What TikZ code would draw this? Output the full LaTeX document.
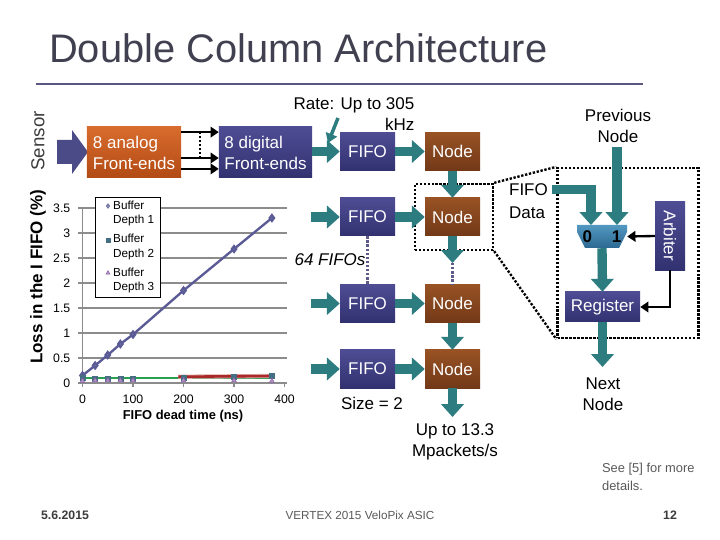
\documentclass[tikz,border=0pt]{standalone}
\usepackage{fontspec}
\setmainfont{Liberation Sans}
\usetikzlibrary{arrows.meta,positioning,calc,plotmarks}

\definecolor{bluetop}{RGB}{78,77,148}
\definecolor{bluebot}{RGB}{50,49,112}
\definecolor{browntop}{RGB}{152,82,36}
\definecolor{brownbot}{RGB}{114,57,24}
\definecolor{orangetop}{RGB}{216,108,46}
\definecolor{orangebot}{RGB}{178,74,20}
\definecolor{flowteal}{RGB}{45,125,128}
\definecolor{muxtop}{RGB}{82,152,192}
\definecolor{muxbot}{RGB}{44,104,146}
\definecolor{sensorblue}{RGB}{75,75,135}
\definecolor{skipgray}{RGB}{95,90,140}
\definecolor{titlegray}{RGB}{64,64,80}
\definecolor{rulecol}{RGB}{90,88,128}
\definecolor{textgray}{RGB}{60,60,60}
\definecolor{footgray}{RGB}{90,90,90}
\definecolor{plotblue}{RGB}{90,90,150}
\definecolor{gridgray}{RGB}{140,140,140}
\definecolor{depthtwo}{RGB}{70,110,130}
\definecolor{depththree}{RGB}{140,100,170}
\definecolor{trendred}{RGB}{170,40,40}
\definecolor{trendgreen}{RGB}{40,160,80}

\begin{document}
\begin{tikzpicture}[x=0.03cm, y=-0.03cm,
  every node/.style={font=\fontsize{14.5}{18}\selectfont},
  box/.style={text=white, inner sep=1pt, align=left},
  bluebox/.style={box, top color=bluetop, bottom color=bluebot},
  fifo/.style={bluebox, minimum width=1.65cm, minimum height=1.14cm},
  col/.style={box, top color=browntop, bottom color=brownbot, minimum width=1.65cm, minimum height=1.14cm},
  flow/.style={draw=flowteal, line width=8pt, -{Triangle[length=11pt,width=19pt]}},
  hint/.style={draw=flowteal, line width=3pt, -{Triangle[length=8pt,width=10pt]}},
  wire/.style={draw=black, line width=2pt, -{Triangle[length=7pt,width=9pt]}},
  dots/.style={draw=black, line width=2pt, dash pattern=on 2pt off 1.4pt},
  skip/.style={draw=skipgray, line width=2pt, dash pattern=on 2pt off 1.5pt},
  tick/.style={font=\fontsize{10.5}{12}\selectfont},
  legtext/.style={font=\fontsize{10}{12.75}\selectfont, align=left, anchor=west, inner sep=0pt},
  foot/.style={font=\fontsize{10}{12}\selectfont, text=footgray}]
\useasboundingbox (0,0) rectangle (720,540);
\fill[white] (0,0) rectangle (720,540);

% title
\node[anchor=base west, text=titlegray, font=\fontsize{34}{40}\selectfont] (title) at (45,63) {Double Column Architecture};
\draw[rulecol, line width=2.2pt] (36,84) -- (643,84);

% sensor and front-ends
\node[rotate=90, text=textgray, font=\fontsize{16}{19}\selectfont] (sensor) at (38,141) {Sensor};
\fill[sensorblue] (57,140) -- (72,140) -- (72,130) -- (88,152) -- (72,174) -- (72,164) -- (57,164) -- cycle;
\node[box, top color=orangetop, bottom color=orangebot, minimum width=2.82cm, minimum height=1.53cm] (analog) at (134,152.5) {8 analog\\Front-ends};
\node[bluebox, minimum width=2.79cm, minimum height=1.53cm] (digital) at (265.5,152.5) {8 digital\\Front-ends};
\coordinate (mid) at ($(analog.east)!0.5!(digital.west)$);
\foreach \dy in {17.4pt,-4.7pt,-14pt}
  \draw[wire] ([yshift=\dy]analog.east) -- ([yshift=\dy]digital.west);
\draw[dots, line width=1.6pt] ([yshift=17.4pt]mid) -- ([yshift=-4.7pt]mid);

% zoom frames
\node[dots, minimum width=2.34cm, minimum height=1.98cm] (focus) at (454,217) {};
\node[dots, minimum width=4.23cm, minimum height=5.1cm] (detail) at (628,253) {};
\draw[dots] (focus.north east) -- (detail.north west);
\draw[dots] (focus.south east) -- (detail.south west);

% column of FIFOs and nodes
\node[align=right] (rate) at (354,114) {Rate: Up to 305\\kHz};
\node[fifo] (fifo1) at (367.5,151.5) {FIFO};
\node[col] (node1) at (452.5,151.5) {Node};
\node[fifo] (fifo2) at (367.5,217) {FIFO};
\node[col] (node2) at (452.5,217) {Node};
\node[fifo] (fifo3) at (367.5,303.5) {FIFO};
\node[col] (node3) at (452.5,303.5) {Node};
\node[fifo] (fifo4) at (367.5,369) {FIFO};
\node[col] (node4) at (452.5,369) {Node};
\node[font=\fontsize{14.5}{18}\selectfont\itshape] (many) at (330,260) {64 FIFOs};
\node (size) at (372,403) {Size = 2};
\node[align=center] (rateout) at (455,442) {Up to 13.3\\Mpackets/s};

\coordinate (ratefrom) at (338,118);
\coordinate (rateto) at (328,143);
\draw[hint] (ratefrom) -- (rateto);
\draw[flow] (digital.east |- fifo1.west) -- (fifo1.west);
\foreach \i in {2,3,4}
  \draw[flow] (fifo\i.west) ++(-29,0) coordinate (src\i) -- (fifo\i.west);
\foreach \i in {1,...,4}
  \draw[flow] (fifo\i) -- (node\i);
\draw[flow] (node1) -- (node2);
\coordinate (gap) at (452.5,263);
\draw[flow] (node2.south) -- (gap);
\draw[skip] (gap) -- (node3.north);
\draw[skip] (fifo2.south) -- (fifo3.north);
\draw[flow] (node3) -- (node4);
\coordinate (out) at (452.5,417);
\draw[flow] (node4.south) -- (out);

% inside one node
\node[align=center] (prev) at (618,126) {Previous\\Node};
\node[align=left, anchor=west, font=\fontsize{14.5}{19.5}\selectfont] (fdata) at (505,201) {FIFO\\Data};
\shade[top color=muxtop, bottom color=muxbot] (577,225) -- (627,225) -- (627,232) -- (619,248) -- (585,248) -- (577,232) -- cycle;
\node[minimum width=1.5cm, minimum height=0.69cm, inner sep=0pt, font=\fontsize{14.5}{18}\selectfont\bfseries] (mux) at (602,236.5) {0\hspace{17pt}1};
\node[bluebox, minimum width=2.25cm, minimum height=0.9cm, align=center] (reg) at (602.5,307) {Register};
\node[bluebox, minimum width=0.9cm, minimum height=2.04cm, inner sep=0pt] (arb) at (670,236) {\rotatebox{-90}{Arbiter}};
\node[align=center] (nextnode) at (603,394) {Next\\Node};

\coordinate (in0) at (591,225);
\coordinate (in1) at (617,225);
\draw[flow] (prev.south -| in1) -- (in1);
\draw[flow] ([yshift=10pt]fdata.east) -| (in0);
\draw[flow] (mux.south) -- (reg.north);
\draw[wire] (arb.west) -- (mux.east);
\draw[wire] (arb.south) |- (reg.east);
\coordinate (nxt) at (602.5,367);
\draw[flow] (reg.south) -- (nxt);

% loss plot
\node[rotate=90, font=\fontsize{14.5}{18}\selectfont\bfseries] (ylabel) at (38,277) {Loss in the I FIFO (\%)};
\begin{scope}[shift={(82.5,383)}, x=0.01515cm, y=1.5cm]
  \foreach \v in {0.5,1,1.5,2,2.5,3,3.5}
    \draw[gridgray, line width=1.2pt] (0,\v) -- (405,\v);
  \draw[gridgray, line width=1.2pt] (0,3.5) -- (0,0) -- (405,0);
  \foreach \v in {0,0.5,1,1.5,2,2.5,3,3.5} {
    \draw[gridgray, line width=1.2pt] (0,\v) -- (-9,\v);
    \node[tick, anchor=east] at (-16,\v) {\v};
  }
  \foreach \t in {0,100,200,300,400} {
    \draw[gridgray, line width=1.2pt] (\t,0) -- (\t,-0.09);
    \node[tick] at (\t,-0.33) {\t};
  }
  \draw[trendgreen, line width=2.4pt] (0,0.1) -- (375,0.1);
  \draw[trendred!40, line width=3.6pt] (190,0.125) -- (375,0.14);
  \draw[trendred, line width=2.2pt] (190,0.125) -- (375,0.14);
  \draw[plotblue, line width=2pt] plot[mark=diamond*, mark size=2.4pt, mark options={fill=plotblue!70}]
    coordinates {(0,0.15) (25,0.35) (50,0.56) (75,0.78) (100,0.97) (200,1.85) (300,2.68) (375,3.3)};
  \path plot[mark=square*, mark size=2.2pt, mark options={draw=depthtwo, fill=depthtwo}]
    coordinates {(0,0.11) (25,0.08) (50,0.08) (75,0.08) (100,0.08) (200,0.1) (300,0.12) (375,0.14)};
  \path plot[mark=triangle*, mark size=2.4pt, mark options={draw=depththree, fill=depththree!70}]
    coordinates {(0,0.04) (25,0.05) (50,0.05) (75,0.05) (100,0.05) (200,0.05) (300,0.05) (375,0.04)};
\end{scope}
\node[font=\fontsize{11}{13}\selectfont\bfseries] (xlabel) at (183,416) {FIFO dead time (ns)};

% legend
\node[draw=black, line width=0.6pt, fill=white, minimum width=1.95cm, minimum height=3cm, inner sep=0pt] (legend) at (127.5,247) {};
\path plot[mark=diamond*, mark size=2pt, mark options={draw=plotblue, fill=plotblue!70}] coordinates {(108,206)};
\path plot[mark=square*, mark size=1.8pt, mark options={draw=depthtwo, fill=depthtwo}] coordinates {(108,240)};
\path plot[mark=triangle*, mark size=2pt, mark options={draw=depththree, fill=depththree!70}] coordinates {(108,273)};
\node[legtext] (leg1) at (113,213.5) {Buffer\\Depth 1};
\node[legtext] (leg2) at (113,247) {Buffer\\Depth 2};
\node[legtext] (leg3) at (113,280.5) {Buffer\\Depth 3};

% footer
\node[foot, align=left, anchor=west, font=\fontsize{11}{15}\selectfont] (note) at (598,477) {See [5] for more\\details.};
\node[font=\fontsize{10.5}{12}\selectfont\bfseries, text=textgray] (date) at (65,515) {5.6.2015};
\node[foot] (event) at (360,515) {VERTEX 2015 VeloPix ASIC};
\node[font=\fontsize{10.5}{12}\selectfont\bfseries, text=textgray] (page) at (670,515) {12};
\end{tikzpicture}
\end{document}
